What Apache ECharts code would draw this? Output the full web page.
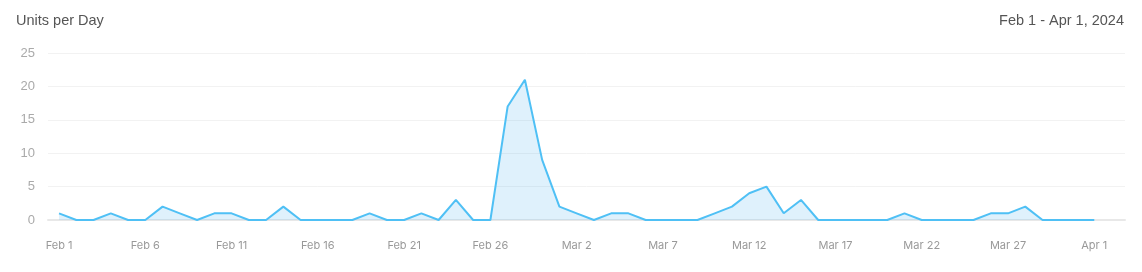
<!DOCTYPE html>
<html>
<head>
<meta charset="utf-8">
<script src="https://cdn.jsdelivr.net/npm/echarts@6/dist/echarts.min.js"></script>
<style>
html,body{margin:0;padding:0;background:#fff;}
#chart{width:1142px;height:272px;}
</style>
</head>
<body>
<div id="chart"></div>
<script>
// Dates Feb 1 .. Apr 1, 2024 (one per day)
const categories = [
  "Feb 1","Feb 2","Feb 3","Feb 4","Feb 5","Feb 6","Feb 7","Feb 8","Feb 9","Feb 10",
  "Feb 11","Feb 12","Feb 13","Feb 14","Feb 15","Feb 16","Feb 17","Feb 18","Feb 19","Feb 20",
  "Feb 21","Feb 22","Feb 23","Feb 24","Feb 25","Feb 26","Feb 27","Feb 28","Feb 29",
  "Mar 1","Mar 2","Mar 3","Mar 4","Mar 5","Mar 6","Mar 7","Mar 8","Mar 9","Mar 10",
  "Mar 11","Mar 12","Mar 13","Mar 14","Mar 15","Mar 16","Mar 17","Mar 18","Mar 19","Mar 20",
  "Mar 21","Mar 22","Mar 23","Mar 24","Mar 25","Mar 26","Mar 27","Mar 28","Mar 29","Mar 30",
  "Mar 31","Apr 1"
];
const unitsPerDay = [
  1,0,0,1,0,0,2,1,0,1,
  1,0,0,2,0,0,0,0,1,0,
  0,1,0,3,0,0,17,21,9,
  2,1,0,1,1,0,0,0,0,1,
  2,4,5,1,3,0,0,0,0,0,
  1,0,0,0,0,1,1,2,0,0,
  0,0
];
const xTickIndices = [0,5,10,15,20,25,30,35,40,45,50,55,60];
const yTicks = [0,5,10,15,20,25];
const titleText = "Units per Day";
const rangeText = "Feb 1 - Apr 1, 2024";

const chart = echarts.init(document.getElementById('chart'), null, {renderer:'canvas'});
chart.setOption({
  animation:false,
  backgroundColor:'#ffffff',
  title:[
    {text:titleText, left:16, top:13, padding:0, textStyle:{fontFamily:'Liberation Sans', fontSize:14.5, fontWeight:'normal', color:'#555'}},
    {text:rangeText, right:18, top:13, padding:0, textStyle:{fontFamily:'Liberation Sans', fontSize:14.5, fontWeight:'normal', color:'#555'}}
  ],
  grid:{left:48, right:17, top:53, bottom:52, containLabel:false},
  xAxis:{
    type:'value',
    min:-0.64, max:61.78,
    splitLine:{show:false},
    axisLine:{show:true, lineStyle:{color:'#e8e8e8', width:2}},
    axisTick:{show:false},
    axisLabel:{
      customValues:xTickIndices,
      formatter:(v)=>categories[Math.round(v)] || '',
      color:'#999', fontFamily:'Inter', fontSize:11, margin:20
    }
  },
  yAxis:{
    type:'value',
    min:0, max:25, interval:5,
    axisLine:{show:false},
    axisTick:{show:false},
    splitLine:{lineStyle:{color:'#f2f2f2', width:1}},
    axisLabel:{color:'#aaa', fontFamily:'Liberation Sans', fontSize:13, margin:13}
  },
  series:[{
    type:'line',
    data:unitsPerDay.map((v,i)=>[i,v]),
    symbol:'none',
    lineStyle:{color:'#4fc0f5', width:2},
    areaStyle:{color:'rgba(79,180,240,0.26)'},
    itemStyle:{color:'#4fc0f5'}
  }]
});
</script>
</body>
</html>
